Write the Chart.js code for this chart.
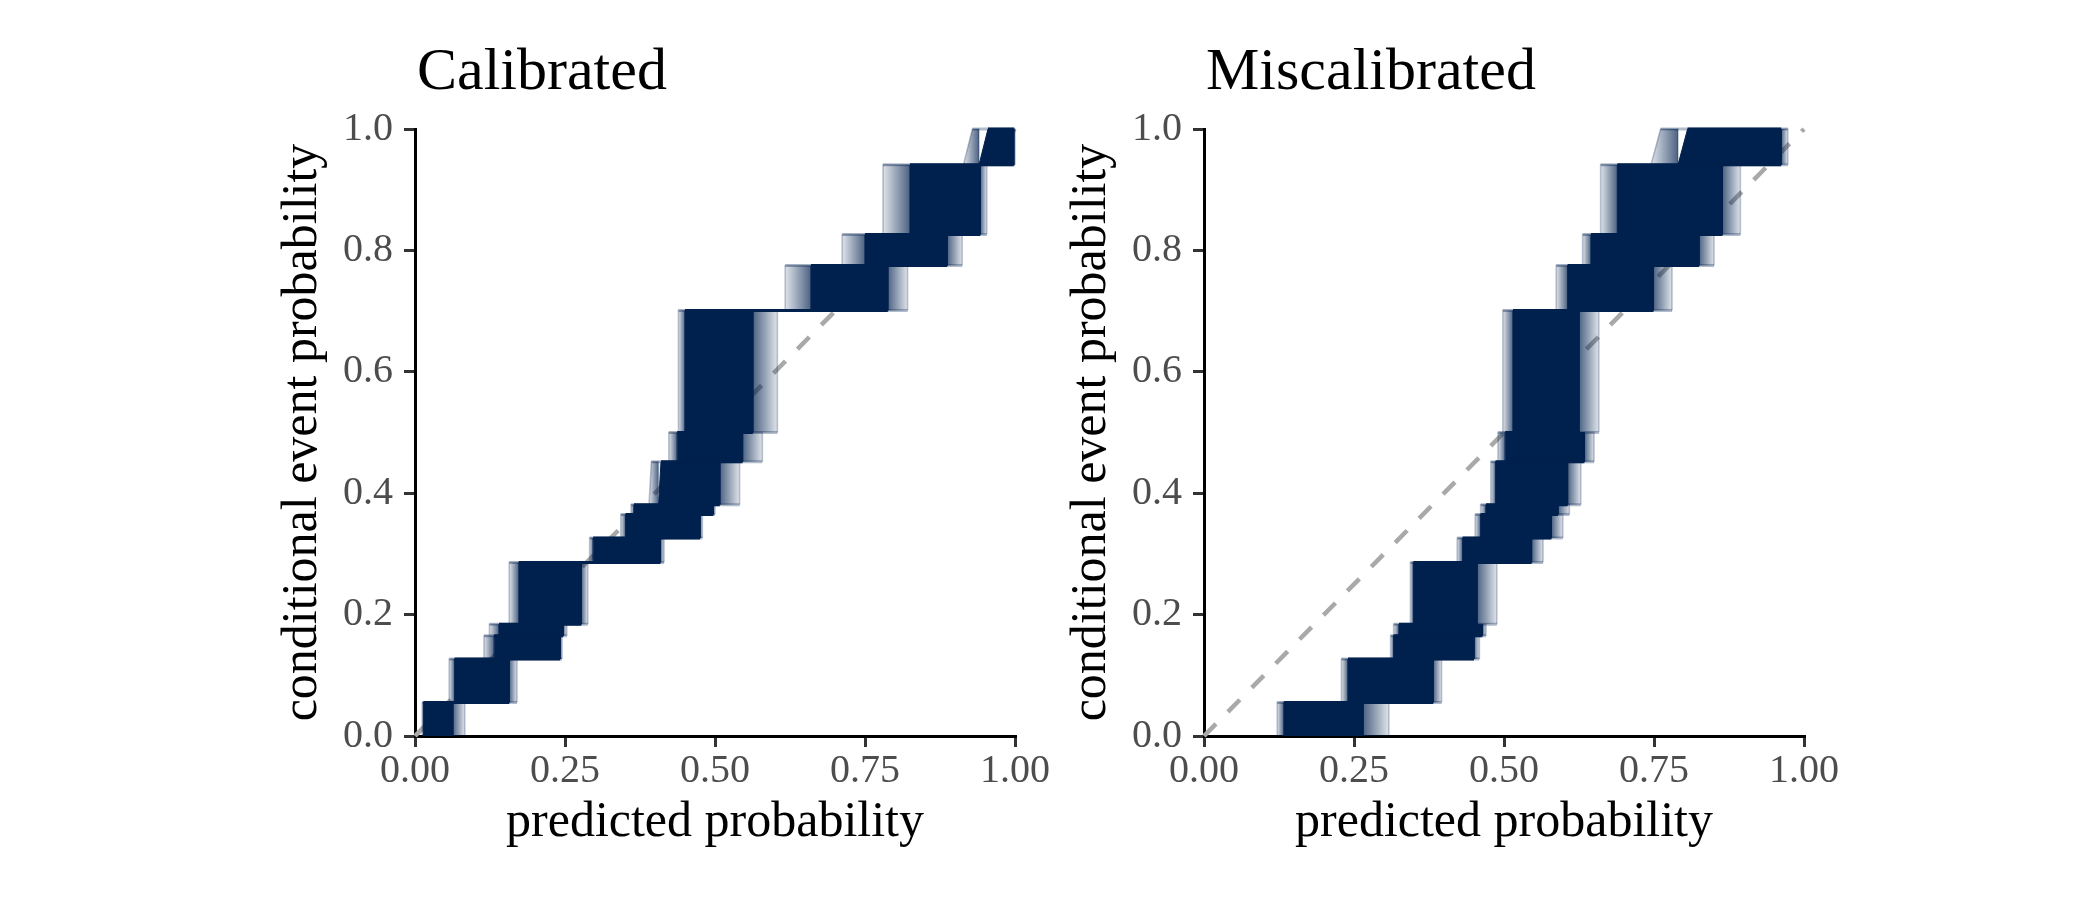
<!DOCTYPE html>
<html>
<head>
<meta charset="utf-8">
<title>Calibrated vs Miscalibrated</title>
<script src="https://cdn.jsdelivr.net/npm/chart.js@4.4.1/dist/chart.umd.min.js"></script>
<style>
  html, body { margin: 0; padding: 0; background: #fff; }
  #wrap { position: relative; width: 2100px; height: 900px; overflow: hidden; }
  canvas { position: absolute; top: 0; }
  #cal { left: 0; }
  #mis { left: 789px; }
</style>
</head>
<body>
<div id="wrap">
  <canvas id="cal" width="1050" height="900"></canvas>
  <canvas id="mis" width="1050" height="900"></canvas>
</div>
<script>
// Texts and ticks
const panelTitles = ['Calibrated', 'Miscalibrated'];
const xTitle = 'predicted probability';
const yTitle = 'conditional event probability';
const xTickValues = [0, 0.25, 0.5, 0.75, 1];
const xTickLabels = ['0.00', '0.25', '0.50', '0.75', '1.00'];
const yTickValues = [0, 0.2, 0.4, 0.6, 0.8, 1];
const yTickLabels = ['0.0', '0.2', '0.4', '0.6', '0.8', '1.0'];

// step heights (same bins in both panels)
const levels = [0, 0.055, 0.127, 0.165, 0.184, 0.286, 0.326, 0.365, 0.381, 0.452, 0.500, 0.701, 0.775, 0.826, 0.941, 1.0];

// Calibrated: x range of the jumps between levels[k] and levels[k+1]
const calOuterLo = [0.012, 0.057, 0.115, 0.124, 0.157, 0.291, 0.343, 0.360, 0.390, 0.423, 0.439, 0.617, 0.712, 0.780, 0.914];
const calCoreLo  = [0.014, 0.066, 0.132, 0.140, 0.173, 0.297, 0.351, 0.365, 0.406, 0.437, 0.450, 0.660, 0.750, 0.825, 0.940];
const calCoreHi  = [0.063, 0.157, 0.242, 0.247, 0.277, 0.409, 0.475, 0.497, 0.508, 0.546, 0.563, 0.788, 0.887, 0.942, 0.998];
const calOuterHi = [0.083, 0.170, 0.245, 0.253, 0.288, 0.415, 0.479, 0.500, 0.541, 0.579, 0.604, 0.821, 0.912, 0.953, 1.000];
const calLean    = [0, 0, 0, 0, 0, 0, 0, 0, 0.004, 0, 0, 0, 0, 0, 0.015];

// Miscalibrated
const misOuterLo = [0.122, 0.229, 0.311, 0.316, 0.344, 0.422, 0.452, 0.461, 0.478, 0.490, 0.498, 0.587, 0.631, 0.661, 0.745];
const misCoreLo  = [0.133, 0.240, 0.316, 0.325, 0.349, 0.431, 0.461, 0.470, 0.486, 0.502, 0.515, 0.606, 0.645, 0.689, 0.790];
const misCoreHi  = [0.265, 0.382, 0.450, 0.464, 0.455, 0.546, 0.579, 0.590, 0.606, 0.634, 0.625, 0.749, 0.825, 0.864, 0.962];
const misOuterHi = [0.308, 0.396, 0.459, 0.470, 0.488, 0.565, 0.598, 0.609, 0.628, 0.650, 0.658, 0.780, 0.850, 0.894, 0.973];
const misLean    = [0, 0, 0, 0, 0, 0, 0, 0, 0, 0, 0, 0, 0, 0, 0.016];

const NAVY = '#00204e';
const FAINT = 'rgba(0, 32, 78, 0.3)';
const EDGE = 'rgba(0, 32, 78, 0.28)';

Chart.defaults.font.family = '"Liberation Serif", "Times New Roman", serif';

function band(lo, hi, y0, y1, lean) {
  return [{x: lo, y: y0}, {x: lo + lean, y: y1}, {x: hi, y: y1}, {x: hi, y: y0}];
}

// horizontal fade from alpha a0 at x0 to a1 at x1
function fade(x0, x1, a0, a1) {
  return ctx => {
    const chart = ctx.chart;
    const xs = chart.scales.x;
    if (!xs || !chart.chartArea) return FAINT;
    const p0 = xs.getPixelForValue(x0), p1 = xs.getPixelForValue(x1);
    if (!(p1 - p0 > 0.5)) return FAINT;
    const g = chart.ctx.createLinearGradient(p0, 0, p1, 0);
    g.addColorStop(0, 'rgba(0, 32, 78, ' + a0 + ')');
    g.addColorStop(1, 'rgba(0, 32, 78, ' + a1 + ')');
    return g;
  };
}

function buildDatasets(outerLo, coreLo, coreHi, outerHi, lean) {
  const sets = [{
    data: [{x: 0, y: 0}, {x: 1, y: 1}],
    borderColor: '#a9a9a9', borderWidth: 4.5, borderDash: [17, 17], order: 10
  }];
  for (let k = 0; k < levels.length - 1; k++) {
    const y0 = levels[k], y1 = levels[k + 1];
    // left fringe, core, right fringe
    sets.push({
      data: band(outerLo[k], coreLo[k], y0, y1, lean[k]),
      fill: {value: y0}, backgroundColor: fade(outerLo[k], coreLo[k], 0.12, 0.7),
      borderColor: EDGE, borderWidth: 1.5, order: 8
    });
    sets.push({
      data: band(coreHi[k], outerHi[k], y0, y1, 0),
      fill: {value: y0}, backgroundColor: fade(coreHi[k], outerHi[k], 0.7, 0.12),
      borderColor: EDGE, borderWidth: 1.5, order: 8
    });
    sets.push({
      data: band(coreLo[k], coreHi[k], y0, y1, lean[k]),
      fill: {value: y0}, backgroundColor: NAVY,
      borderColor: NAVY, borderWidth: 1, order: 6
    });
  }
  // horizontal segments at each level
  for (let k = 1; k < levels.length; k++) {
    const a = k - 1, b = Math.min(k, levels.length - 2);
    sets.push({
      data: [{x: outerLo[a] + lean[a], y: levels[k]}, {x: outerHi[b], y: levels[k]}],
      borderColor: FAINT, borderWidth: 3, order: 5
    });
    sets.push({
      data: [{x: coreLo[a] + lean[a], y: levels[k]}, {x: coreHi[b], y: levels[k]}],
      borderColor: NAVY, borderWidth: 3, order: 4
    });
  }
  sets.forEach(s => { s.clip = 6; if (!s.fill) s.fill = false; });
  return sets;
}

const titlePlugin = {
  id: 'panelTitle',
  afterDraw(chart, args, opts) {
    const ctx = chart.ctx;
    ctx.save();
    ctx.font = '60px "Liberation Serif", "Times New Roman", serif';
    ctx.fillStyle = '#000';
    ctx.textAlign = 'left';
    ctx.textBaseline = 'alphabetic';
    ctx.fillText(opts.text, chart.chartArea.left + 2, 89);
    ctx.restore();
  }
};

const axisGrid = {display: true, drawOnChartArea: false, drawTicks: true, tickLength: 11,
  tickWidth: 3, tickColor: '#333333', color: '#333333', lineWidth: 3};
const axisBorder = {display: true, color: '#000000', width: 3};

function makeChart(id, title, sets) {
  return new Chart(document.getElementById(id), {
    type: 'line',
    data: {datasets: sets},
    options: {
      responsive: false,
      animation: false,
      devicePixelRatio: 1,
      events: [],
      layout: {padding: {left: 273, top: 129, right: 27, bottom: 47}},
      elements: {point: {radius: 0, hoverRadius: 0}, line: {tension: 0}},
      plugins: {legend: {display: false}, tooltip: {enabled: false}, panelTitle: {text: title}},
      scales: {
        x: {
          type: 'linear', min: 0, max: 1,
          grid: axisGrid, border: axisBorder,
          afterBuildTicks: s => { s.ticks = xTickValues.map(v => ({value: v})); },
          afterFit: s => { s.height = 117; },
          ticks: {callback: (v, i) => xTickLabels[i], padding: 0, maxRotation: 0, autoSkip: false,
            color: '#4d4d4d', font: {size: 40}},
          title: {display: true, text: xTitle, color: '#000', font: {size: 50}, padding: 0}
        },
        y: {
          type: 'linear', min: 0, max: 1,
          grid: axisGrid, border: axisBorder,
          afterBuildTicks: s => { s.ticks = yTickValues.map(v => ({value: v})); },
          afterFit: s => { s.width = 142; },
          ticks: {callback: (v, i) => yTickLabels[i], padding: 11, autoSkip: false,
            color: '#4d4d4d', font: {size: 40}},
          title: {display: true, text: yTitle, color: '#000', font: {size: 50}, padding: 0}
        }
      }
    },
    plugins: [titlePlugin]
  });
}

makeChart('cal', panelTitles[0], buildDatasets(calOuterLo, calCoreLo, calCoreHi, calOuterHi, calLean));
makeChart('mis', panelTitles[1], buildDatasets(misOuterLo, misCoreLo, misCoreHi, misOuterHi, misLean));
</script>
</body>
</html>
